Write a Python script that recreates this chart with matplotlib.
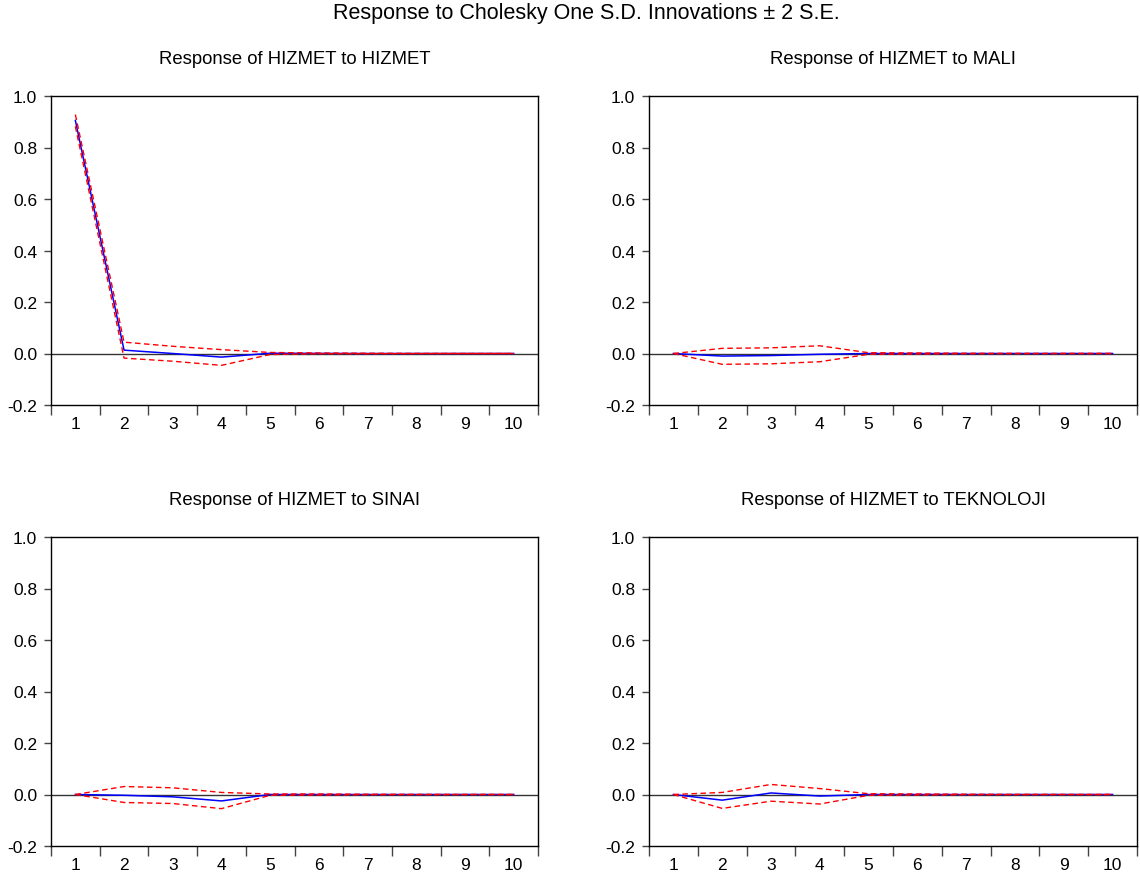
import numpy as np
import matplotlib
matplotlib.use("Agg")
import matplotlib.pyplot as plt

plt.rcParams['font.family'] = ['Liberation Sans', 'DejaVu Sans']

# Data
periods = np.arange(1, 11)

titles = ['Response of HIZMET to HIZMET', 'Response of HIZMET to MALI',
          'Response of HIZMET to SINAI', 'Response of HIZMET to TEKNOLOJI']

resp_hizmet = [0.905, 0.013, 0.000, -0.014, 0.001, 0.0005, 0.0, 0.0, 0.0, 0.0]
upper_hizmet = [0.928, 0.044, 0.028, 0.015, 0.004, 0.002, 0.001, 0.0005, 0.0003, 0.0002]
lower_hizmet = [0.882, -0.018, -0.030, -0.046, -0.004, -0.001, -0.001, -0.0005, -0.0003, -0.0002]

resp_mali = [0.0, -0.010, -0.008, -0.003, 0.0, 0.0, 0.0, 0.0, 0.0, 0.0]
upper_mali = [0.0, 0.020, 0.022, 0.030, 0.003, 0.002, 0.001, 0.0005, 0.0003, 0.0002]
lower_mali = [0.0, -0.042, -0.040, -0.032, -0.003, -0.002, -0.001, -0.0005, -0.0003, -0.0002]

resp_sinai = [0.0, -0.003, -0.009, -0.025, 0.0, 0.0, 0.0, 0.0, 0.0, 0.0]
upper_sinai = [0.0, 0.031, 0.026, 0.008, 0.002, 0.002, 0.001, 0.0005, 0.0003, 0.0002]
lower_sinai = [0.0, -0.031, -0.035, -0.055, -0.003, -0.002, -0.001, -0.0005, -0.0003, -0.0002]

resp_tekno = [0.0, -0.022, 0.006, -0.006, 0.0, 0.0, 0.0, 0.0, 0.0, 0.0]
upper_tekno = [0.0, 0.008, 0.039, 0.023, 0.003, 0.002, 0.001, 0.0005, 0.0003, 0.0002]
lower_tekno = [0.0, -0.054, -0.026, -0.037, -0.003, -0.002, -0.001, -0.0005, -0.0003, -0.0002]

responses = [resp_hizmet, resp_mali, resp_sinai, resp_tekno]
uppers = [upper_hizmet, upper_mali, upper_sinai, upper_tekno]
lowers = [lower_hizmet, lower_mali, lower_sinai, lower_tekno]

y_ticks = [-0.2, 0.0, 0.2, 0.4, 0.6, 0.8, 1.0]

fig = plt.figure(figsize=(11.4, 8.78), dpi=100)

# axes boxes in pixels: left, top, right, bottom
boxes = [(51, 97, 538, 406), (649, 97, 1137, 406),
         (51, 538, 538, 847), (649, 538, 1137, 847)]
W, H = 1140, 878

for i, (l, t, r, b) in enumerate(boxes):
    ax = fig.add_axes([l / W, 1 - b / H, (r - l) / W, (b - t) / H])
    ax.axhline(0, color='#333333', lw=1.0, zorder=1)
    ax.plot(periods, responses[i], color='#0000FF', lw=1.1, zorder=3)
    ax.plot(periods, uppers[i], color='#FF0000', lw=1.0, dashes=(4, 2.5), zorder=4)
    ax.plot(periods, lowers[i], color='#FF0000', lw=1.0, dashes=(4, 2.5), zorder=4)

    ax.set_xlim(0.5, 10.5)
    ax.set_ylim(-0.2, 1.0)

    # tick marks between periods, labels at the periods
    ax.set_xticks(np.arange(0.5, 11, 1.0))
    ax.set_xticklabels([])
    ax.set_xticks(periods, minor=True)
    ax.set_xticklabels([str(p) for p in periods], minor=True)
    ax.tick_params(axis='x', which='major', direction='out', length=7, width=1, color='#444444')
    ax.tick_params(axis='x', which='minor', length=0, labelsize=12.5, pad=8)

    ax.set_yticks(y_ticks)
    ax.set_yticklabels(['%.1f' % v for v in y_ticks])
    ax.tick_params(axis='y', direction='out', length=5, width=1, color='#444444', labelsize=12.5, pad=5)

    for sp in ax.spines.values():
        sp.set_linewidth(1.0)
        sp.set_color('black')

    ax.text(0.5, 1 + 37 / (b - t), titles[i], transform=ax.transAxes,
            ha='center', va='center', fontsize=13.3)

fig.text(586 / W, 1 - 13 / H, 'Response to Cholesky One S.D. Innovations \u00b1 2 S.E.',
         ha='center', va='center', fontsize=15.5)

fig.savefig('out.png', dpi=100)
